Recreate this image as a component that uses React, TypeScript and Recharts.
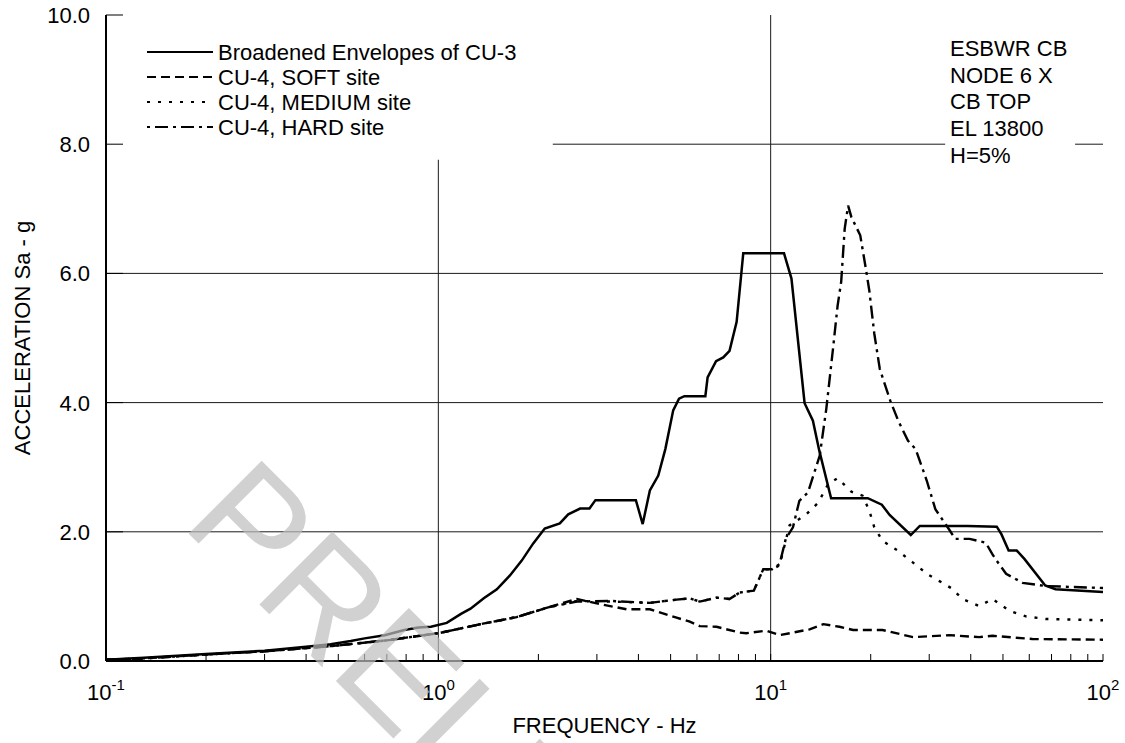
import React from 'react';
import { LineChart, Line, XAxis, YAxis, CartesianGrid, ReferenceArea, Legend } from 'recharts';

// [frequency Hz, acceleration g]
const envelopeCU3: number[][] = [
  [0.1, 0.02], [0.13, 0.05], [0.2, 0.11], [0.3, 0.16], [0.4, 0.22], [0.474, 0.26], [0.545, 0.31],
  [0.6, 0.35], [0.69, 0.4], [0.79, 0.48], [0.87, 0.52], [0.95, 0.53], [1.06, 0.59], [1.17, 0.73],
  [1.25, 0.81], [1.37, 0.97], [1.5, 1.11], [1.64, 1.32], [1.78, 1.55], [1.93, 1.82], [2.09, 2.05],
  [2.32, 2.13], [2.46, 2.27], [2.67, 2.36], [2.85, 2.36], [2.97, 2.49], [3.93, 2.49], [4.12, 2.12],
  [4.33, 2.64], [4.59, 2.87], [4.82, 3.28], [5.09, 3.88], [5.3, 4.06], [5.5, 4.1], [6.36, 4.1],
  [6.46, 4.39], [6.85, 4.64], [7.2, 4.7], [7.52, 4.8], [7.9, 5.25], [8.27, 6.31], [10.97, 6.31],
  [11.55, 5.92], [12.65, 3.99], [13.4, 3.72], [14.0, 3.26], [15.2, 2.52], [19.6, 2.52], [21.6, 2.42],
  [22.8, 2.26], [26.4, 1.95], [28.1, 2.09], [39.1, 2.09], [47.9, 2.08], [49.5, 1.96], [52, 1.71],
  [55, 1.71], [58, 1.58], [67, 1.17], [72, 1.11], [100, 1.07],
];

const softCU4: number[][] = [
  [0.1, 0.02], [0.13, 0.04], [0.2, 0.1], [0.3, 0.15], [0.474, 0.23], [0.7, 0.32], [1.0, 0.43],
  [1.34, 0.57], [1.72, 0.68], [2.14, 0.83], [2.61, 0.96], [3.07, 0.88], [3.69, 0.8], [4.33, 0.8],
  [5.21, 0.67], [5.71, 0.61], [6.12, 0.54], [6.87, 0.53], [8.07, 0.44], [8.45, 0.43], [9.7, 0.47],
  [10.64, 0.4], [11.67, 0.44], [13.1, 0.49], [14.4, 0.57], [16.1, 0.53], [17.7, 0.48], [21.7, 0.48],
  [26.8, 0.37], [34.5, 0.4], [42.4, 0.37], [46.5, 0.39], [61.3, 0.34], [100, 0.33],
];

const mediumCU4: number[][] = [
  [0.1, 0.02], [0.13, 0.04], [0.2, 0.1], [0.3, 0.15], [0.474, 0.23], [0.7, 0.32], [1.0, 0.43],
  [1.34, 0.57], [1.72, 0.68], [2.14, 0.83], [2.61, 0.93], [3.3, 0.92], [4.33, 0.9], [5.21, 0.95],
  [5.71, 0.97], [6.12, 0.92], [6.87, 0.98], [7.52, 0.96], [8.07, 1.06], [8.9, 1.09], [9.5, 1.42],
  [10.1, 1.42], [10.64, 1.48], [11.4, 2.1], [12.8, 2.27], [13.9, 2.45], [14.9, 2.74], [15.9, 2.83],
  [17.5, 2.62], [18.9, 2.56], [19.8, 2.33], [20.5, 2.07], [21.7, 1.86], [24.1, 1.71], [26.7, 1.53],
  [29.7, 1.34], [32.1, 1.24], [34.9, 1.13], [37.8, 0.96], [42.4, 0.85], [46.5, 0.96], [52.2, 0.78],
  [58.6, 0.69], [67.3, 0.65], [100, 0.63],
];

const hardCU4: number[][] = [
  [0.1, 0.02], [0.13, 0.04], [0.2, 0.1], [0.3, 0.15], [0.474, 0.23], [0.7, 0.32], [1.0, 0.43],
  [1.34, 0.57], [1.72, 0.68], [2.14, 0.83], [2.61, 0.92], [3.3, 0.93], [4.33, 0.9], [5.21, 0.95],
  [5.71, 0.97], [6.12, 0.92], [6.87, 0.98], [7.52, 0.96], [8.07, 1.06], [8.9, 1.09], [9.5, 1.42],
  [10.1, 1.42], [10.64, 1.5], [11.1, 1.89], [11.67, 2.07], [12.2, 2.48], [12.95, 2.61], [14.05, 3.18],
  [14.7, 3.9], [15.4, 4.83], [15.9, 5.5], [16.3, 5.87], [16.7, 6.69], [17.1, 7.05], [17.5, 6.87],
  [18.6, 6.59], [19.3, 6.1], [19.8, 5.74], [20.5, 5.07], [21.3, 4.52], [22.9, 4.03], [24.2, 3.72],
  [25.9, 3.41], [27.3, 3.28], [29.5, 2.79], [31.3, 2.35], [34.6, 2.02], [35.9, 1.89], [39.7, 1.89],
  [44.4, 1.83], [46.5, 1.65], [47.9, 1.55], [51.1, 1.35], [57.3, 1.21], [67.3, 1.16], [100, 1.13],
];

const seriesNames = [
  'Broadened Envelopes of CU-3',
  'CU-4, SOFT site',
  'CU-4, MEDIUM site',
  'CU-4, HARD site',
];

const xTicks = [
  0.1, 0.2, 0.3, 0.4, 0.5, 0.6, 0.7, 0.8, 0.9,
  1, 2, 3, 4, 5, 6, 7, 8, 9,
  10, 20, 30, 40, 50, 60, 70, 80, 90, 100,
];
const yTicks = [0, 2, 4, 6, 8, 10];
const gridX = [1, 10];
const gridY = [2, 4, 6, 8];

const noteLines = ['ESBWR CB', 'NODE 6 X', 'CB TOP', 'EL 13800', 'H=5%'];

const FONT = '"Liberation Sans", Arial, Helvetica, sans-serif';
const FS = 22;

const toData = (pairs: number[][]) => pairs.map(([f, v]) => ({ f, v }));

const styles = [
  { dash: undefined as string | undefined, width: 2.5, legendOffset: 0 },
  { dash: '9 5', width: 2.4, legendOffset: 0 },
  { dash: '3 8', width: 2.4, legendOffset: 0 },
  { dash: '13 5 3 5', width: 2.4, legendOffset: 18 },
];
const seriesData = [envelopeCU3, softCU4, mediumCU4, hardCU4].map(toData);

const decadeExp = (v: number): string | null => {
  const l = Math.log10(v);
  const r = Math.round(l);
  return Math.abs(l - r) < 1e-6 ? String(r) : null;
};

const BottomTick = (props: any) => {
  const { x, y, payload } = props;
  const exp = decadeExp(payload.value);
  return (
    <g>
      <line x1={x} y1={y} x2={x} y2={y - 7} stroke="#000" strokeWidth={1} />
      {exp !== null && (
        <text x={x} y={y + 39} textAnchor="middle" fontFamily={FONT} fontSize={FS} fill="#000">
          10
          <tspan dy={-10} fontSize={15}>{exp}</tspan>
        </text>
      )}
    </g>
  );
};

const TopTick = (props: any) => {
  const { x, y } = props;
  return <line x1={x} y1={y} x2={x} y2={y + 7} stroke="#000" strokeWidth={1} />;
};

const LeftTick = (props: any) => {
  const { x, y, payload } = props;
  return (
    <g>
      <line x1={x} y1={y} x2={x + 17} y2={y} stroke="#000" strokeWidth={1} />
      <text x={x - 16} y={y + 8} textAnchor="end" fontFamily={FONT} fontSize={FS} fill="#000">
        {Number(payload.value).toFixed(1)}
      </text>
    </g>
  );
};

const renderLegend = (props: any) => {
  const payload: any[] = (props.payload || [])
    .slice()
    .sort((a: any, b: any) => seriesNames.indexOf(a.value) - seriesNames.indexOf(b.value));
  return (
    <svg width={420} height={110} style={{ display: 'block', overflow: 'visible' }}>
      {payload.map((entry: any, i: number) => {
        const idx = seriesNames.indexOf(entry.value);
        const st = styles[idx >= 0 ? idx : i];
        const cy = 12 + i * 25;
        return (
          <g key={i}>
            <line
              x1={7}
              y1={cy}
              x2={73}
              y2={cy}
              stroke="#000"
              strokeWidth={2}
              strokeDasharray={st.dash}
              strokeDashoffset={st.legendOffset}
            />
            <text x={78} y={cy + 8} fontFamily={FONT} fontSize={FS} fill="#000">{entry.value}</text>
          </g>
        );
      })}
    </svg>
  );
};

export default function App() {
  return (
    <div style={{ position: 'absolute', left: 0, top: 0, width: 1125, height: 743, background: '#fff', overflow: 'hidden' }}>
      <LineChart width={1125} height={743} margin={{ top: 15, right: 22, bottom: 0, left: 0 }}>
        <CartesianGrid horizontalValues={gridY} verticalValues={gridX} stroke="#1a1a1a" strokeWidth={1} />
        <ReferenceArea x1={0.1} x2={2.21} y1={7.76} y2={10} fill="#fff" fillOpacity={1} stroke="none" />
        <ReferenceArea x1={33.5} x2={82.4} y1={7.6} y2={10} fill="#fff" fillOpacity={1} stroke="none" />
        {seriesData.map((d, i) => (
          <Line
            key={seriesNames[i]}
            data={d}
            dataKey="v"
            name={seriesNames[i]}
            type="linear"
            stroke="#000"
            strokeWidth={styles[i].width}
            strokeDasharray={styles[i].dash}
            dot={false}
            activeDot={false}
            isAnimationActive={false}
          />
        ))}
        <XAxis
          dataKey="f"
          type="number"
          scale="log"
          domain={[0.1, 100]}
          allowDataOverflow
          ticks={xTicks}
          interval={0}
          height={82}
          tickSize={0}
          tickMargin={0}
          tick={<BottomTick />}
          axisLine={{ stroke: '#000', strokeWidth: 2 }}
          label={({ viewBox }: any) => (
            <text x={viewBox.x + viewBox.width / 2} y={viewBox.y + 72} textAnchor="middle" fontFamily={FONT} fontSize={FS} fill="#000">
              FREQUENCY - Hz
            </text>
          )}
        />
        <XAxis
          xAxisId="top"
          orientation="top"
          dataKey="f"
          type="number"
          scale="log"
          domain={[0.1, 100]}
          allowDataOverflow
          ticks={xTicks}
          interval={0}
          height={0}
          tickSize={0}
          tickMargin={0}
          tick={<TopTick />}
          axisLine={{ stroke: '#000', strokeWidth: 2 }}
        />
        <YAxis
          type="number"
          domain={[0, 10]}
          ticks={yTicks}
          interval={0}
          width={106}
          tickSize={0}
          tickMargin={0}
          tick={<LeftTick />}
          axisLine={{ stroke: '#000', strokeWidth: 2 }}
          label={({ viewBox }: any) => {
            const cx = 30;
            const cy = viewBox.y + viewBox.height / 2;
            return (
              <text x={cx} y={cy} transform={`rotate(-90 ${cx} ${cy})`} textAnchor="middle" fontFamily={FONT} fontSize={FS} fill="#000">
                ACCELERATION Sa - g
              </text>
            );
          }}
        />
        <YAxis
          yAxisId="right"
          orientation="right"
          type="number"
          domain={[0, 10]}
          ticks={yTicks}
          width={0}
          tick={false}
          tickLine={false}
          axisLine={{ stroke: '#000', strokeWidth: 2 }}
        />
        <Legend
          layout="vertical"
          align="center"
          verticalAlign="middle"
          content={renderLegend}
          wrapperStyle={{ position: 'absolute', left: 140, top: 40, width: 420, height: 110 }}
        />
      </LineChart>
      <svg
        width={1125}
        height={743}
        style={{ position: 'absolute', left: 0, top: 0, pointerEvents: 'none' }}
      >
        {noteLines.map((t, i) => (
          <text key={t} x={950} y={56 + i * 26.7} fontFamily={FONT} fontSize={FS} fill="#000">
            {t}
          </text>
        ))}
        <text
          x={180}
          y={525}
          transform="rotate(45 180 525)"
          fontFamily={FONT}
          fontSize={150}
          fill="rgb(190,190,190)"
          fillOpacity={0.7}
        >
          PRELIMINARY
        </text>
      </svg>
    </div>
  );
}
